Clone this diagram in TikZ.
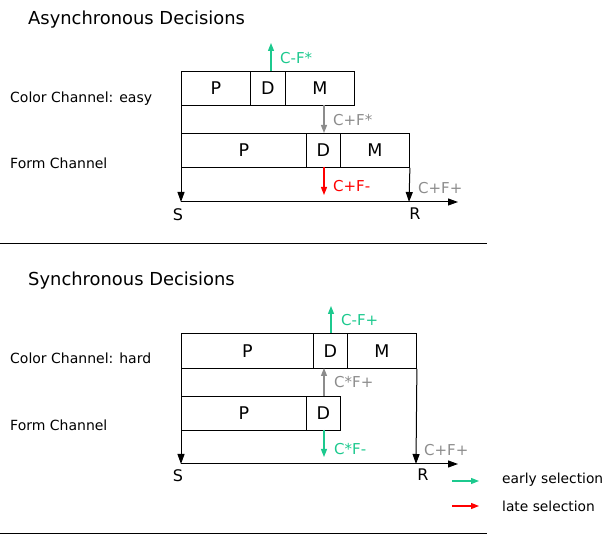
\documentclass[tikz,border=0pt]{standalone}
\usepackage{fontspec}
\setmainfont{DejaVu Sans}
\usetikzlibrary{arrows.meta}
\definecolor{early}{HTML}{1CC98E}
\definecolor{late}{HTML}{FF0000}
\definecolor{neutral}{HTML}{8C8C8C}
\tikzset{
  seg/.style={draw, line width=0.9pt, inner sep=0pt, anchor=north west, font=\fontsize{17.5}{19}\selectfont},
  chan/.style={anchor=west, inner sep=0pt, font=\fontsize{14}{16}\selectfont},
  title/.style={anchor=west, inner sep=0pt, font=\fontsize{17.9}{20}\selectfont},
  lab/.style={anchor=west, inner sep=0pt, font=\fontsize{15}{17}\selectfont},
  legend/.style={anchor=west, inner sep=0pt, font=\fontsize{13.8}{16}\selectfont},
  axlab/.style={anchor=north, inner sep=0pt, font=\fontsize{16}{18}\selectfont},
  tip/.style={-{Triangle[width=6pt,length=8pt]}, line width=1.3pt},
  axis/.style={-{Triangle[width=7pt,length=10pt]}, line width=1pt},
  drop/.style={-{Triangle[width=7pt,length=10pt]}, line width=1pt},
}
\begin{document}
\begin{tikzpicture}[x=1pt,y=-1pt]
\useasboundingbox (0,0) rectangle (603,534);

% ---------- asynchronous decisions ----------
\node[title] (t1) at (28,20) {Asynchronous Decisions};
\node[chan] (l1c) at (10,99) {Color Channel: easy};
\node[chan] (l1f) at (10,163) {Form Channel};

% color channel stages
\node[seg, minimum width=69pt, minimum height=34pt] (aCP) at (181,71) {P};
\node[seg, minimum width=35pt, minimum height=34pt] (aCD) at (250,71) {D};
\node[seg, minimum width=69pt, minimum height=34pt] (aCM) at (285,71) {M};
% form channel stages
\node[seg, minimum width=125pt, minimum height=34pt] (aFP) at (181,133) {P};
\node[seg, minimum width=34pt, minimum height=34pt] (aFD) at (306,133) {D};
\node[seg, minimum width=69pt, minimum height=34pt] (aFM) at (340,133) {M};

% time axis
\coordinate (aS) at (181,202);
\coordinate (aR) at (409,202);
\coordinate (aE) at (458,202);
\draw[axis] (aS) -- (aE);
\draw[drop] (aCP.south west) -- (aS);
\draw[drop] (aFM.south east) -- (aR);
\node[axlab] (aSl) at (178,208) {S};
\node[axlab] (aRl) at (415,208) {R};

% decision signals
\coordinate (aUp) at (271,43);
\draw[tip, early] (271,71) -- (aUp);
\node[lab, text=early] (aL1) at (280,58) {C-F*};
\draw[tip, neutral] (324,105) -- (324,133);
\node[lab, text=neutral] (aL2) at (333,120) {C+F*};
\coordinate (aDn) at (324,195);
\draw[tip, late] (324,167) -- (aDn);
\node[lab, text=late] (aL3) at (333,186) {C+F-};
\node[lab, text=neutral] (aL4) at (418,188) {C+F+};

\draw[line width=0.8pt] (0,243) -- (487,243);

% ---------- synchronous decisions ----------
\node[title] (t2) at (28,281) {Synchronous Decisions};
\node[chan] (l2c) at (10,358) {Color Channel: hard};
\node[chan] (l2f) at (10,425) {Form Channel};

\node[seg, minimum width=132pt, minimum height=35pt] (sCP) at (181,333) {P};
\node[seg, minimum width=34pt, minimum height=35pt] (sCD) at (313,333) {D};
\node[seg, minimum width=69pt, minimum height=35pt] (sCM) at (347,333) {M};
\node[seg, minimum width=125pt, minimum height=34pt] (sFP) at (181,396) {P};
\node[seg, minimum width=34pt, minimum height=34pt] (sFD) at (306,396) {D};

\coordinate (sS) at (181,464);
\coordinate (sR) at (416,464);
\coordinate (sE) at (458,464);
\draw[axis] (sS) -- (sE);
\draw[drop] (sCP.south west) -- (sS);
\draw[drop] (sCM.south east) -- (sR);
\node[axlab] (sSl) at (178,469) {S};
\node[axlab] (sRl) at (423,469) {R};

\coordinate (sUp) at (331,306);
\draw[tip, early] (331,333) -- (sUp);
\node[lab, text=early] (sL1) at (341,320) {C-F+};
\draw[tip, neutral] (sFD.north -| 324,0) -- (324,368);
\node[lab, text=neutral] (sL2) at (334,382) {C*F+};
\coordinate (sDn) at (324,457);
\draw[tip, early] (324,430) -- (sDn);
\node[lab, text=early] (sL3) at (334,449) {C*F-};
\node[lab, text=neutral] (sL4) at (424,450) {C+F+};

% legend
\coordinate (g1a) at (452,481);
\coordinate (g1b) at (479,481);
\coordinate (g2a) at (452,506);
\coordinate (g2b) at (479,506);
\draw[tip, early] (g1a) -- (g1b);
\draw[tip, late] (g2a) -- (g2b);
\node[legend] (lg1) at (502,480) {early selection};
\node[legend] (lg2) at (502,506) {late selection};

\draw[line width=0.8pt] (0,533) -- (487,533);
\end{tikzpicture}
\end{document}
